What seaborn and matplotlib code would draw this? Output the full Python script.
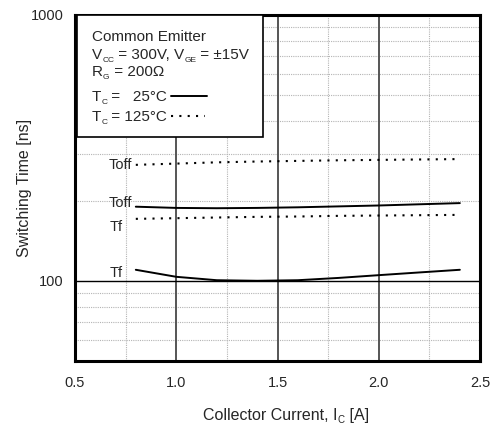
import numpy as np
import pandas as pd
import seaborn as sns
import matplotlib.pyplot as plt
from matplotlib.patches import Rectangle
from matplotlib.ticker import FixedLocator, NullFormatter
from matplotlib.transforms import offset_copy

# values
ic = [0.8, 1.0, 1.2, 1.4, 1.6, 1.8, 2.0, 2.2, 2.4]
toff_25 = [190, 188, 187.5, 188, 189, 190.5, 192, 194, 196]
tf_25 = [110, 103.5, 100.5, 100, 100.5, 102.5, 105, 107.5, 110]
toff_125 = [273, 276, 279, 281, 282.5, 284, 285, 286, 287]
tf_125 = [171, 172, 173, 174, 174.5, 175.5, 176, 176.5, 177]

x_ticks = [0.5, 1.0, 1.5, 2.0, 2.5]
x_minor = [0.75, 1.25, 1.75, 2.25]
y_minor = [60, 70, 80, 90, 200, 300, 400, 500, 600, 700, 800, 900]

sns.set_style("white")
plt.rcParams['font.family'] = ['Liberation Sans', 'DejaVu Sans']

df = pd.DataFrame({'ic': ic * 4,
                   'time': toff_25 + tf_25 + toff_125 + tf_125,
                   'curve': ['toff25'] * 9 + ['tf25'] * 9 + ['toff125'] * 9 + ['tf125'] * 9})

fig = plt.figure(figsize=(4.97, 4.28), dpi=100)
ax = fig.add_axes([0.151, 0.157, 0.815, 0.808])
ax.set_yscale('log')
ax.set_xlim(0.5, 2.5)
ax.set_ylim(50, 1000)

# grid
for v in x_minor:
    ax.axvline(v, color='#b4b4b4', lw=0.8, ls=(0, (1, 1)), zorder=0)
for v in y_minor:
    ax.axhline(v, color='#b4b4b4', lw=0.8, ls=(0, (1, 1)), zorder=0)
for v in [1.0, 1.5, 2.0]:
    ax.axvline(v, color='#555555', lw=1.4, zorder=1)
ax.axhline(100, color='black', lw=1.0, zorder=1)

for key in ['toff25', 'tf25']:
    sns.lineplot(data=df[df.curve == key], x='ic', y='time', color='black', lw=1.4, ax=ax, zorder=3)
for key in ['toff125', 'tf125']:
    sns.lineplot(data=df[df.curve == key], x='ic', y='time', color='black', lw=1.5,
                 ls=(0, (1, 3)), ax=ax, zorder=3)

ax.text(0.78, 273, 'Toff', ha='right', va='center', fontsize=10.5)
ax.text(0.78, 196, 'Toff', ha='right', va='center', fontsize=10.5)
ax.text(0.737, 160, 'Tf', ha='right', va='center', fontsize=10.5)
ax.text(0.737, 107, 'Tf', ha='right', va='center', fontsize=10.5)

ax.set_xticks(x_ticks)
ax.set_xticklabels(['0.5', '1.0', '1.5', '2.0', '2.5'])
ax.set_yticks([100, 1000])
ax.set_yticklabels(['100', '1000'])
ax.yaxis.set_minor_locator(FixedLocator(y_minor))
ax.yaxis.set_minor_formatter(NullFormatter())
ax.tick_params(axis='both', which='both', length=0, labelsize=10.5)
ax.tick_params(axis='x', pad=11)
ax.tick_params(axis='y', pad=8)
ax.set_ylabel('Switching Time [ns]', fontsize=11.5, labelpad=-1)
ax.set_xlabel('')
for s in ax.spines.values():
    s.set_linewidth(2.2)
    s.set_color('black')

renderer = fig.canvas.get_renderer()


def rich(x, y, segs, trans, z=5):
    # draw pieces of text one after another; small pieces are subscripts
    dx = 0.0
    for txt, size, dy in segs:
        t = ax.text(x, y, txt, fontsize=size, va='baseline', zorder=z,
                    transform=offset_copy(trans, fig=fig, x=dx, y=dy, units='points'),
                    clip_on=False)
        dx += t.get_window_extent(renderer).width * 72 / fig.dpi


fs = 11
sub = 6
# annotation box
ax.add_patch(Rectangle((0.004, 0.647), 0.46, 0.353, transform=ax.transAxes,
                       facecolor='white', edgecolor='black', lw=1.2, zorder=4))
tx = 0.042
T = ax.transAxes
rich(tx, 0.925, [('Common Emitter', fs, 0)], T)
rich(tx, 0.872, [('V', fs, 0), ('CC', sub, -2), (' = 300V, V', fs, 0), ('GE', sub, -2), (' = ±15V', fs, 0)], T)
rich(tx, 0.823, [('R', fs, 0), ('G', sub, -2), (' = 200Ω', fs, 0)], T)
rich(tx, 0.75, [('T', fs, 0), ('C', sub, -2), (' =   25°C', fs, 0)], T)
rich(tx, 0.693, [('T', fs, 0), ('C', sub, -2), (' = 125°C', fs, 0)], T)
ax.plot([0.238, 0.326], [0.765, 0.765], transform=T, color='black', lw=1.4, zorder=5)
ax.plot([0.238, 0.322], [0.708, 0.708], transform=T, color='black', lw=1.5,
        ls=(0, (1, 3)), zorder=5)

# x axis label with subscript, a little right of the axes centre as in the datasheet
xl = [('Collector Current, I', 11.5, 0), ('C', 7, -2.5), (' [A]', 11.5, 0)]
tmp = [ax.text(0, 0, s, fontsize=z) for s, z, _ in xl]
total = sum(t.get_window_extent(renderer).width for t in tmp) * 72 / fig.dpi
for t in tmp:
    t.remove()
rich(0.5, -0.17, xl, offset_copy(T, fig=fig, x=-total / 2 + 6, y=0, units='points'))

fig.savefig('out.png', dpi=100)
